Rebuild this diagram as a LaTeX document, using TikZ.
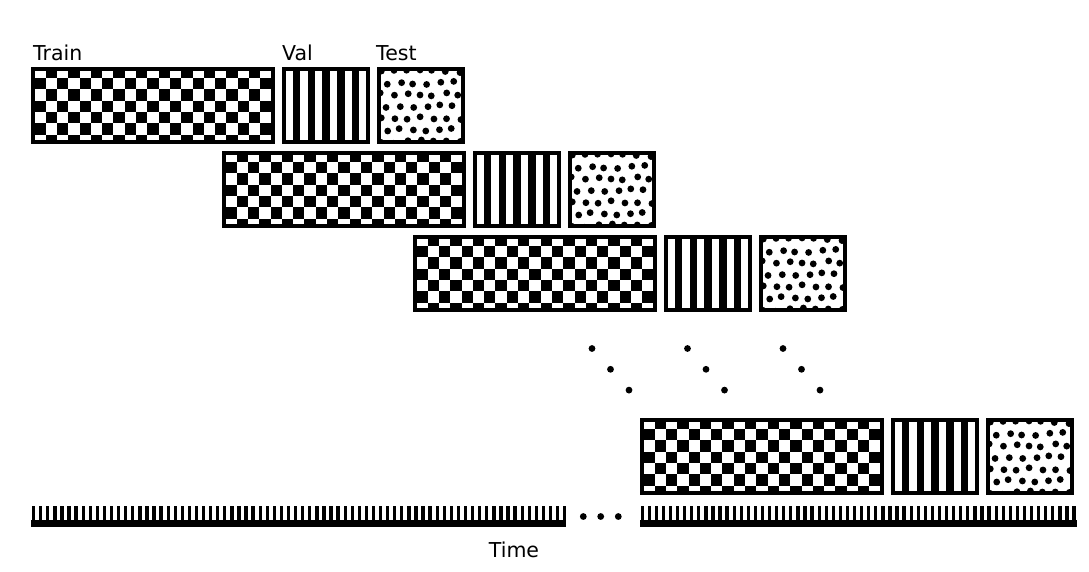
\documentclass[tikz,border=0pt]{standalone}
\usepackage{fontspec}
\setmainfont{DejaVu Sans}
\usetikzlibrary{positioning}

\begin{document}
\begin{tikzpicture}[x=1pt,y=-1pt]
	\tikzset{box/.style={draw=black,line width=3.6pt,inner sep=0pt,minimum height=73.4pt},
		trainbox/.style={box,minimum width=240.4pt},
		valbox/.style={box,minimum width=84.4pt},
		testbox/.style={box,minimum width=84.4pt},
		lbl/.style={inner sep=0pt,font=\fontsize{20.5}{24}\selectfont}}

\useasboundingbox (0,0) rectangle (1089,571);

% one row per split
\foreach \n/\x/\y in {1/31/67,2/222/151,3/413/235,4/640/418}{
	\node[trainbox,anchor=north west] (train\n) at (\x,\y) {};
	\node[valbox,right=7pt of train\n] (val\n) {};
	\node[testbox,right=7pt of val\n] (test\n) {};
	% checkerboard
	\begin{scope}
		\clip ([shift={(3.5,3.5)}]train\n.north west) rectangle ([shift={(-3.5,-3.5)}]train\n.south east);
		\begin{scope}[shift={(train\n.north west)}]
			\foreach \i in {0,...,20}
			\foreach \j in {0,...,6}{
				\pgfmathparse{int(mod(\i+\j,2))}
				\ifnum\pgfmathresult=1
				\fill (3.3+\i*11.3,-0.333+\j*11.333) rectangle ++(11.3,11.333);
				\fi}
		\end{scope}
	\end{scope}
	% stripes
	\begin{scope}[shift={(val\n.north west)}]
		\foreach \k in {1,3,...,9}
		\fill (3.3+\k*7.4,3) rectangle ++(7.4,71);
	\end{scope}
	% dots
	\begin{scope}
		\clip ([shift={(3.5,3.5)}]test\n.north west) rectangle ([shift={(-3.5,-3.5)}]test\n.south east);
		\begin{scope}[shift={(test\n.north west)}]
			\pgfmathsetseed{11}
			\foreach \r in {0,...,6}
			\foreach \c in {0,...,6}{
				\pgfmathsetmacro{\dx}{3+\c*13.2+mod(\r,2)*6.6+2*rand}
				\pgfmathsetmacro{\dy}{4+\r*11.8+2*rand}
				\fill (\dx,\dy) circle[radius=3.4pt];
			}
		\end{scope}
	\end{scope}
}

\node[lbl,anchor=base west] (trainlbl) at ([xshift=2pt,yshift=7pt]train1.north west) {Train};
\node[lbl,anchor=base west] (vallbl) at ([yshift=7pt]val1.north west) {Val};
\node[lbl,anchor=base west] (testlbl) at ([xshift=-1pt,yshift=7pt]test1.north west) {Test};

% vertical dots
\foreach \g in {0,1,2}
\foreach \s in {0,1,2}
\fill (592+\g*95.5+\s*18.5,348.5+\s*20.8) circle[radius=3.4pt];

% time axis
\foreach \k in {0,...,75} \fill (32+\k*7.08,506) rectangle ++(3.3,15);
\fill (31,520) rectangle (566,526.5);
\foreach \k in {0,...,61} \fill (640.5+\k*7.08,506) rectangle ++(3.3,15);
\fill (640,520) rectangle (1076.5,526.5);
\foreach \x in {583.3,600.7,618.3} \fill (\x,516.5) circle[radius=3.4pt];

\node[lbl,anchor=base] (timelbl) at (514,557) {Time};
\end{tikzpicture}
\end{document}
